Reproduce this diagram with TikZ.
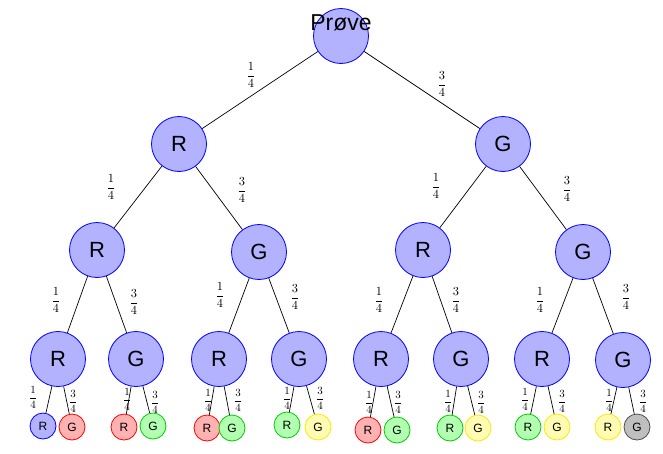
\documentclass[tikz,border=0pt]{standalone}
\usepackage{graphicx}
\usepackage[no-math]{fontspec}
\newfontfamily\nodefont{Liberation Sans}
\newcommand{\fone}{\(\displaystyle\frac{1}{4}\)}
\newcommand{\fthree}{\(\displaystyle\frac{3}{4}\)}
\begin{document}
\begin{tikzpicture}[x=1pt,y=-1pt,
 big/.style={circle, draw=blue, fill=blue!30, line width=0.8pt, minimum size=55pt, inner sep=0pt, font=\nodefont\fontsize{22}{24}\selectfont},
 leaf/.style={circle, minimum size=26pt, inner sep=0pt, line width=0.8pt, font=\nodefont\fontsize{12}{14}\selectfont},
 lb/.style={leaf, draw=blue, fill=blue!30},
 lr/.style={leaf, draw=red, fill=red!30},
 lg/.style={leaf, draw=green!80!black, fill=green!30},
 ly/.style={leaf, draw=yellow!90!orange, fill=yellow!30},
 lk/.style={leaf, draw=black!70, fill=black!25},
 fr/.style={inner sep=0pt},
 con/.style={draw=black, line width=0.7pt}]
\useasboundingbox (0,0) rectangle (663,453);
% root
\node[big] (root) at (341,36) {};
\node[inner sep=0pt, anchor=base, font=\nodefont\fontsize{23}{25}\selectfont] (roottext) at (341,30) {Prøve};
% level 1
\node[big] (a) at (179,144) {R};
\node[big] (b) at (503,144) {G};
% level 2
\node[big] (aa) at (97,250) {R};
\node[big] (ab) at (259,252) {G};
\node[big] (ba) at (423,250) {R};
\node[big] (bb) at (583,252) {G};
% level 3
\node[big] (aaa) at (58,359) {R};
\node[big] (aab) at (136,359) {G};
\node[big] (aba) at (219,359) {R};
\node[big] (abb) at (299,359) {G};
\node[big] (baa) at (381,359) {R};
\node[big] (bab) at (461,359) {G};
\node[big] (bba) at (542,359) {R};
\node[big] (bbb) at (623,360) {G};
% leaves
\node[lb] (l1r) at (43,426) {R};
\node[lr] (l1g) at (72,427) {G};
\node[lr] (l2r) at (124,427) {R};
\node[lg] (l2g) at (153,426) {G};
\node[lr] (l3r) at (207,428) {R};
\node[lg] (l3g) at (232,428) {G};
\node[lg] (l4r) at (287,425) {R};
\node[ly] (l4g) at (318,427) {G};
\node[lr] (l5r) at (368,430) {R};
\node[lg] (l5g) at (397,430) {G};
\node[lg] (l6r) at (450,428) {R};
\node[ly] (l6g) at (478,428) {G};
\node[lg] (l7r) at (528,427) {R};
\node[ly] (l7g) at (557,427) {G};
\node[ly] (l8r) at (608,427) {R};
\node[lk] (l8g) at (637,427) {G};
% connectors
\draw[con] (root) -- (a);
\draw[con] (root) -- (b);
\draw[con] (a) -- (aa);
\draw[con] (a) -- (ab);
\draw[con] (b) -- (ba);
\draw[con] (b) -- (bb);
\draw[con] (aa) -- (aaa);
\draw[con] (aa) -- (aab);
\draw[con] (ab) -- (aba);
\draw[con] (ab) -- (abb);
\draw[con] (ba) -- (baa);
\draw[con] (ba) -- (bab);
\draw[con] (bb) -- (bba);
\draw[con] (bb) -- (bbb);
\draw[con] (aaa) -- (l1r);
\draw[con] (aaa) -- (l1g);
\draw[con] (aab) -- (l2r);
\draw[con] (aab) -- (l2g);
\draw[con] (aba) -- (l3r);
\draw[con] (aba) -- (l3g);
\draw[con] (abb) -- (l4r);
\draw[con] (abb) -- (l4g);
\draw[con] (baa) -- (l5r);
\draw[con] (baa) -- (l5g);
\draw[con] (bab) -- (l6r);
\draw[con] (bab) -- (l6g);
\draw[con] (bba) -- (l7r);
\draw[con] (bba) -- (l7g);
\draw[con] (bbb) -- (l8r);
\draw[con] (bbb) -- (l8g);
% labels level 1
\node[fr] (f1a) at (251,75) {\scalebox{1.24}{\fone}};
\node[fr] (f1b) at (442,84) {\scalebox{1.24}{\fthree}};
% level 2
\node[fr] (f2a) at (111,187) {\scalebox{1.24}{\fone}};
\node[fr] (f2b) at (242,190) {\scalebox{1.24}{\fthree}};
\node[fr] (f2c) at (436,186) {\scalebox{1.24}{\fone}};
\node[fr] (f2d) at (567,189) {\scalebox{1.24}{\fthree}};
% level 3
\node[fr] (f3a) at (56,300) {\scalebox{1.24}{\fone}};
\node[fr] (f3b) at (134,302) {\scalebox{1.24}{\fthree}};
\node[fr] (f3c) at (220,295) {\scalebox{1.24}{\fone}};
\node[fr] (f3d) at (295,297) {\scalebox{1.24}{\fthree}};
\node[fr] (f3e) at (379,300) {\scalebox{1.24}{\fone}};
\node[fr] (f3f) at (456,300) {\scalebox{1.24}{\fthree}};
\node[fr] (f3g) at (540,300) {\scalebox{1.24}{\fone}};
\node[fr] (f3h) at (626,297) {\scalebox{1.24}{\fthree}};
% level 4
\node[fr] (f4a) at (33,397) {\scalebox{1.1}{\fone}};
\node[fr] (f4b) at (73,401) {\scalebox{1.1}{\fthree}};
\node[fr] (f4c) at (127,399) {\scalebox{1.1}{\fone}};
\node[fr] (f4d) at (155,402) {\scalebox{1.1}{\fthree}};
\node[fr] (f4e) at (208,400) {\scalebox{1.1}{\fone}};
\node[fr] (f4f) at (238,400) {\scalebox{1.1}{\fthree}};
\node[fr] (f4g) at (287,398) {\scalebox{1.1}{\fone}};
\node[fr] (f4h) at (320,398) {\scalebox{1.1}{\fthree}};
\node[fr] (f4i) at (369,402) {\scalebox{1.1}{\fone}};
\node[fr] (f4j) at (398,402) {\scalebox{1.1}{\fthree}};
\node[fr] (f4k) at (448,401) {\scalebox{1.1}{\fone}};
\node[fr] (f4l) at (481,402) {\scalebox{1.1}{\fthree}};
\node[fr] (f4m) at (525,399) {\scalebox{1.1}{\fone}};
\node[fr] (f4n) at (562,401) {\scalebox{1.1}{\fthree}};
\node[fr] (f4o) at (609,400) {\scalebox{1.1}{\fone}};
\node[fr] (f4p) at (643,401) {\scalebox{1.1}{\fthree}};
\end{tikzpicture}
\end{document}
